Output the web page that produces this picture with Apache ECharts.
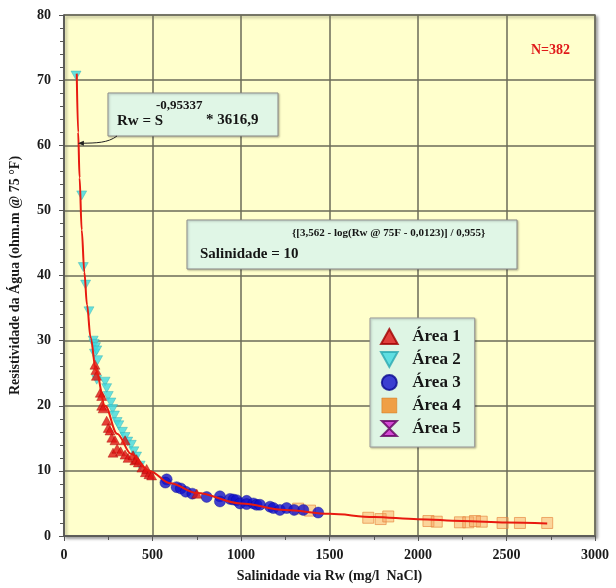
<!DOCTYPE html>
<html>
<head>
<meta charset="utf-8">
<script src="https://cdn.jsdelivr.net/npm/echarts@6/dist/echarts.min.js"></script>
<style>
  html, body { margin: 0; padding: 0; background: #ffffff; }
  #chart { width: 616px; height: 588px; }
</style>
</head>
<body>
<div id="chart"></div>
<script>
// Salinity (mg/l NaCl) vs. water resistivity (ohm.m @ 75 °F) by area
const area1 = [
  [175, 26.3], [180, 25.5], [183, 24.6], [205, 22.0], [213, 21.5], [213, 20.0],
  [221, 19.6], [241, 17.7], [250, 16.6], [260, 16.2], [270, 15.1], [288, 14.7],
  [277, 12.8], [300, 13.4], [320, 13.0], [345, 14.7], [345, 12.5], [362, 12.0],
  [390, 12.4], [400, 11.6], [410, 11.8], [420, 11.3], [440, 10.5], [460, 9.8],
  [467, 10.3], [480, 9.5], [495, 9.3], [750, 6.5]
];
const area2 = [
  [68, 70.7], [100, 52.3], [109, 41.3], [122, 38.6], [141, 34.5], [165, 30.0],
  [170, 29.5], [178, 29.0], [172, 28.0], [185, 28.5], [190, 27.0], [185, 24.0],
  [232, 23.7], [241, 22.7], [250, 21.5], [265, 20.5], [275, 19.5], [285, 18.5],
  [300, 17.5], [310, 17.0], [330, 16.0], [345, 15.2], [360, 14.5], [380, 14.0],
  [395, 13.0], [410, 12.2], [430, 10.8]
];
const area3 = [
  [580, 8.7], [573, 8.2], [636, 7.5], [660, 7.3], [688, 6.8], [725, 6.5],
  [806, 6.0], [881, 6.1], [881, 5.3], [938, 5.7], [957, 5.6], [975, 5.5],
  [994, 5.0], [1032, 5.4], [1032, 4.9], [1070, 5.0], [1088, 4.8], [1107, 4.8],
  [1164, 4.5], [1183, 4.3], [1220, 4.0], [1258, 4.3], [1300, 4.0], [1352, 4.0],
  [1436, 3.6]
];
const area4 = [
  [1323, 4.2], [1390, 3.9], [1719, 2.8], [1789, 2.6], [1832, 3.0], [2059, 2.3],
  [2106, 2.2], [2237, 2.1], [2284, 2.1], [2322, 2.3], [2360, 2.2], [2478, 2.0],
  [2576, 2.0], [2730, 2.0]
];
const area5 = [];

// Fitted trend Rw = S^-0.95337 * 3616.9, sampled along the drawn curve
const trend = [
  [72, 71.0], [80, 62.0], [88, 55.0], [100, 47.0], [115, 40.5], [130, 35.5],
  [150, 30.5], [180, 25.5], [232, 20.0], [300, 15.7], [380, 12.6], [482, 10.0],
  [600, 8.1], [750, 6.6], [1000, 5.0], [1250, 4.0], [1500, 3.4], [1750, 2.93],
  [2000, 2.58], [2250, 2.3], [2500, 2.08], [2730, 1.92]
];

const seriesNames = ['Área 1', 'Área 2', 'Área 3', 'Área 4', 'Área 5'];
const xTicks = [0, 500, 1000, 1500, 2000, 2500, 3000];
const yTicks = [0, 10, 20, 30, 40, 50, 60, 70, 80];

const FONT = '"Liberation Serif", "Times New Roman", serif';
const SYM_UP = 'path://M5,0 L10,9 L0,9 Z';
const SYM_DOWN = 'path://M0,0 L10,0 L5,9 Z';
const SYM_SQ = 'path://M0,0 L10,0 L10,10 L0,10 Z';
const SYM_HG = 'path://M0,0 L10,0 L5,5 L10,10 L0,10 L5,5 Z';

const chart = echarts.init(document.getElementById('chart'), null, { renderer: 'canvas' });

const option = {
  animation: false,
  backgroundColor: '#ffffff',
  grid: {
    left: 64, right: 21, top: 15, bottom: 49,
    show: true,
    backgroundColor: '#ffffcc',
    borderColor: '#7a7a7a',
    borderWidth: 1.5,
    shadowColor: 'rgba(0,0,0,0.35)',
    shadowBlur: 3,
    shadowOffsetX: 2,
    shadowOffsetY: 2
  },
  xAxis: {
    type: 'value',
    min: xTicks[0], max: xTicks[xTicks.length - 1], interval: 500,
    name: 'Salinidade via Rw (mg/l  NaCl)',
    nameLocation: 'middle', nameGap: 33,
    nameTextStyle: { fontFamily: FONT, fontWeight: 'bold', fontSize: 14, color: '#1a1a1a' },
    axisLine: { show: true, lineStyle: { color: '#555555', width: 1.5 } },
    axisTick: { show: true, length: 5, lineStyle: { color: '#555555' } },
    minorTick: { show: true, splitNumber: 2, length: 4, lineStyle: { color: '#555555' } },
    axisLabel: {
      margin: 12, fontFamily: FONT, fontWeight: 'bold', fontSize: 14, color: '#1a1a1a',
      formatter: (v) => String(v)
    },
    splitLine: { show: true, lineStyle: { color: '#6b6b58', width: 1.5 } }
  },
  yAxis: {
    type: 'value',
    min: yTicks[0], max: yTicks[yTicks.length - 1], interval: 10,
    name: 'Resistividade da Água (ohm.m @ 75 °F)',
    nameLocation: 'middle', nameGap: 42, nameRotate: 90,
    nameTextStyle: { fontFamily: FONT, fontWeight: 'bold', fontSize: 14, color: '#1a1a1a' },
    axisLine: { show: true, lineStyle: { color: '#555555', width: 1.5 } },
    axisTick: { show: true, length: 5, lineStyle: { color: '#555555' } },
    minorTick: { show: true, splitNumber: 5, length: 4, lineStyle: { color: '#555555' } },
    axisLabel: {
      margin: 13, fontFamily: FONT, fontWeight: 'bold', fontSize: 14, color: '#1a1a1a',
      formatter: (v) => String(v)
    },
    splitLine: { show: true, lineStyle: { color: '#6b6b58', width: 1.5 } }
  },
  legend: {
    orient: 'vertical',
    left: 370, top: 318,
    data: [
      { name: seriesNames[0] },
      { name: seriesNames[1] },
      { name: seriesNames[2] },
      { name: seriesNames[3], itemStyle: { color: '#f38a1e', borderColor: '#c86a10', borderWidth: 0.5 } },
      { name: seriesNames[4] }
    ],
    selectedMode: false,
    backgroundColor: '#def5e4',
    borderColor: '#9a9a9a',
    borderWidth: 1,
    shadowColor: 'rgba(0,0,0,0.25)',
    shadowBlur: 2, shadowOffsetX: 1, shadowOffsetY: 1,
    padding: [10, 14, 10, 10],
    itemGap: 6,
    itemWidth: 36, itemHeight: 15,
    textStyle: { fontFamily: FONT, fontWeight: 'bold', fontSize: 17, color: '#151515', lineHeight: 17 }
  },
  series: [
    {
      name: 'Área 4', type: 'scatter', data: area4, symbol: SYM_SQ, symbolSize: 11, z: 2,
      itemStyle: { color: 'rgba(245,160,90,0.55)', borderColor: 'rgba(230,130,60,0.8)', borderWidth: 1 }
    },
    {
      name: 'Área 3', type: 'scatter', data: area3, symbol: 'circle', symbolSize: 11, z: 3,
      itemStyle: { color: '#1212cc', borderColor: '#0a0a90', borderWidth: 0.5 }
    },
    {
      name: 'Área 2', type: 'scatter', data: area2, symbol: SYM_DOWN, symbolSize: [10, 9], z: 3,
      itemStyle: { color: '#3fd8e0', borderColor: '#2aa8b0', borderWidth: 0.5 }
    },
    {
      name: 'Área 1', type: 'scatter', data: area1, symbol: SYM_UP, symbolSize: [10, 9], z: 4,
      itemStyle: { color: '#e01212', borderColor: '#a00000', borderWidth: 0.5 }
    },
    {
      name: 'Área 5', type: 'scatter', data: area5, symbol: SYM_HG, symbolSize: 10, z: 4,
      itemStyle: { color: '#d020d0', borderColor: '#600060', borderWidth: 0.5 }
    },
    {
      name: 'Tendência', type: 'line', data: trend, smooth: 0.35, smoothMonotone: 'x',
      showSymbol: false, symbol: 'none', z: 5,
      lineStyle: { color: '#e81a10', width: 2 }
    }
  ]
};

chart.setOption(option);

// Annotations: equations, sample count and the pointer to the trend line
const target = chart.convertToPixel({ gridIndex: 0 }, [84, 60]);
const eqBox1 = { x: 108, y: 93, w: 170, h: 43 };
const eqBox2 = { x: 187, y: 220, w: 330, h: 49 };
const boxStyle = {
  fill: '#e0f6e6', stroke: '#8a8a8a', lineWidth: 1,
  shadowColor: 'rgba(0,0,0,0.25)', shadowBlur: 2, shadowOffsetX: 1, shadowOffsetY: 1
};
const txt = (x, y, text, size, extra) => ({
  type: 'text', x: x, y: y, z: 20,
  style: Object.assign({
    text: text, fontFamily: FONT, fontWeight: 'bold', fontSize: size,
    fill: '#151515', verticalAlign: 'middle', align: 'left'
  }, extra || {})
});

chart.setOption({
  graphic: [
    { type: 'rect', z: 15, shape: { x: eqBox1.x, y: eqBox1.y, width: eqBox1.w, height: eqBox1.h }, style: boxStyle },
    txt(117, 121, 'Rw = S', 15),
    txt(156, 106, '-0,95337', 13),
    txt(206, 120, '* 3616,9', 15),
    { type: 'rect', z: 15, shape: { x: eqBox2.x, y: eqBox2.y, width: eqBox2.w, height: eqBox2.h }, style: boxStyle },
    txt(200, 254, 'Salinidade = 10', 15),
    txt(292, 233, '{[3,562 - log(Rw @ 75F - 0,0123)] / 0,955}', 11),
    txt(531, 50, 'N=382', 14, { fill: '#e01a1a' }),
    {
      type: 'bezierCurve', z: 16,
      shape: {
        x1: 117, y1: 136,
        cpx1: 108, cpy1: 143,
        cpx2: 96, cpy2: 143,
        x2: target[0] + 3, y2: target[1] - 2
      },
      style: { stroke: '#222222', lineWidth: 1, fill: null }
    },
    {
      type: 'polygon', z: 16,
      shape: { points: [[target[0] - 1, target[1] - 2], [target[0] + 5, target[1] - 4.5], [target[0] + 5, target[1] + 0.5]] },
      style: { fill: '#222222' }
    }
  ]
});
</script>
</body>
</html>
